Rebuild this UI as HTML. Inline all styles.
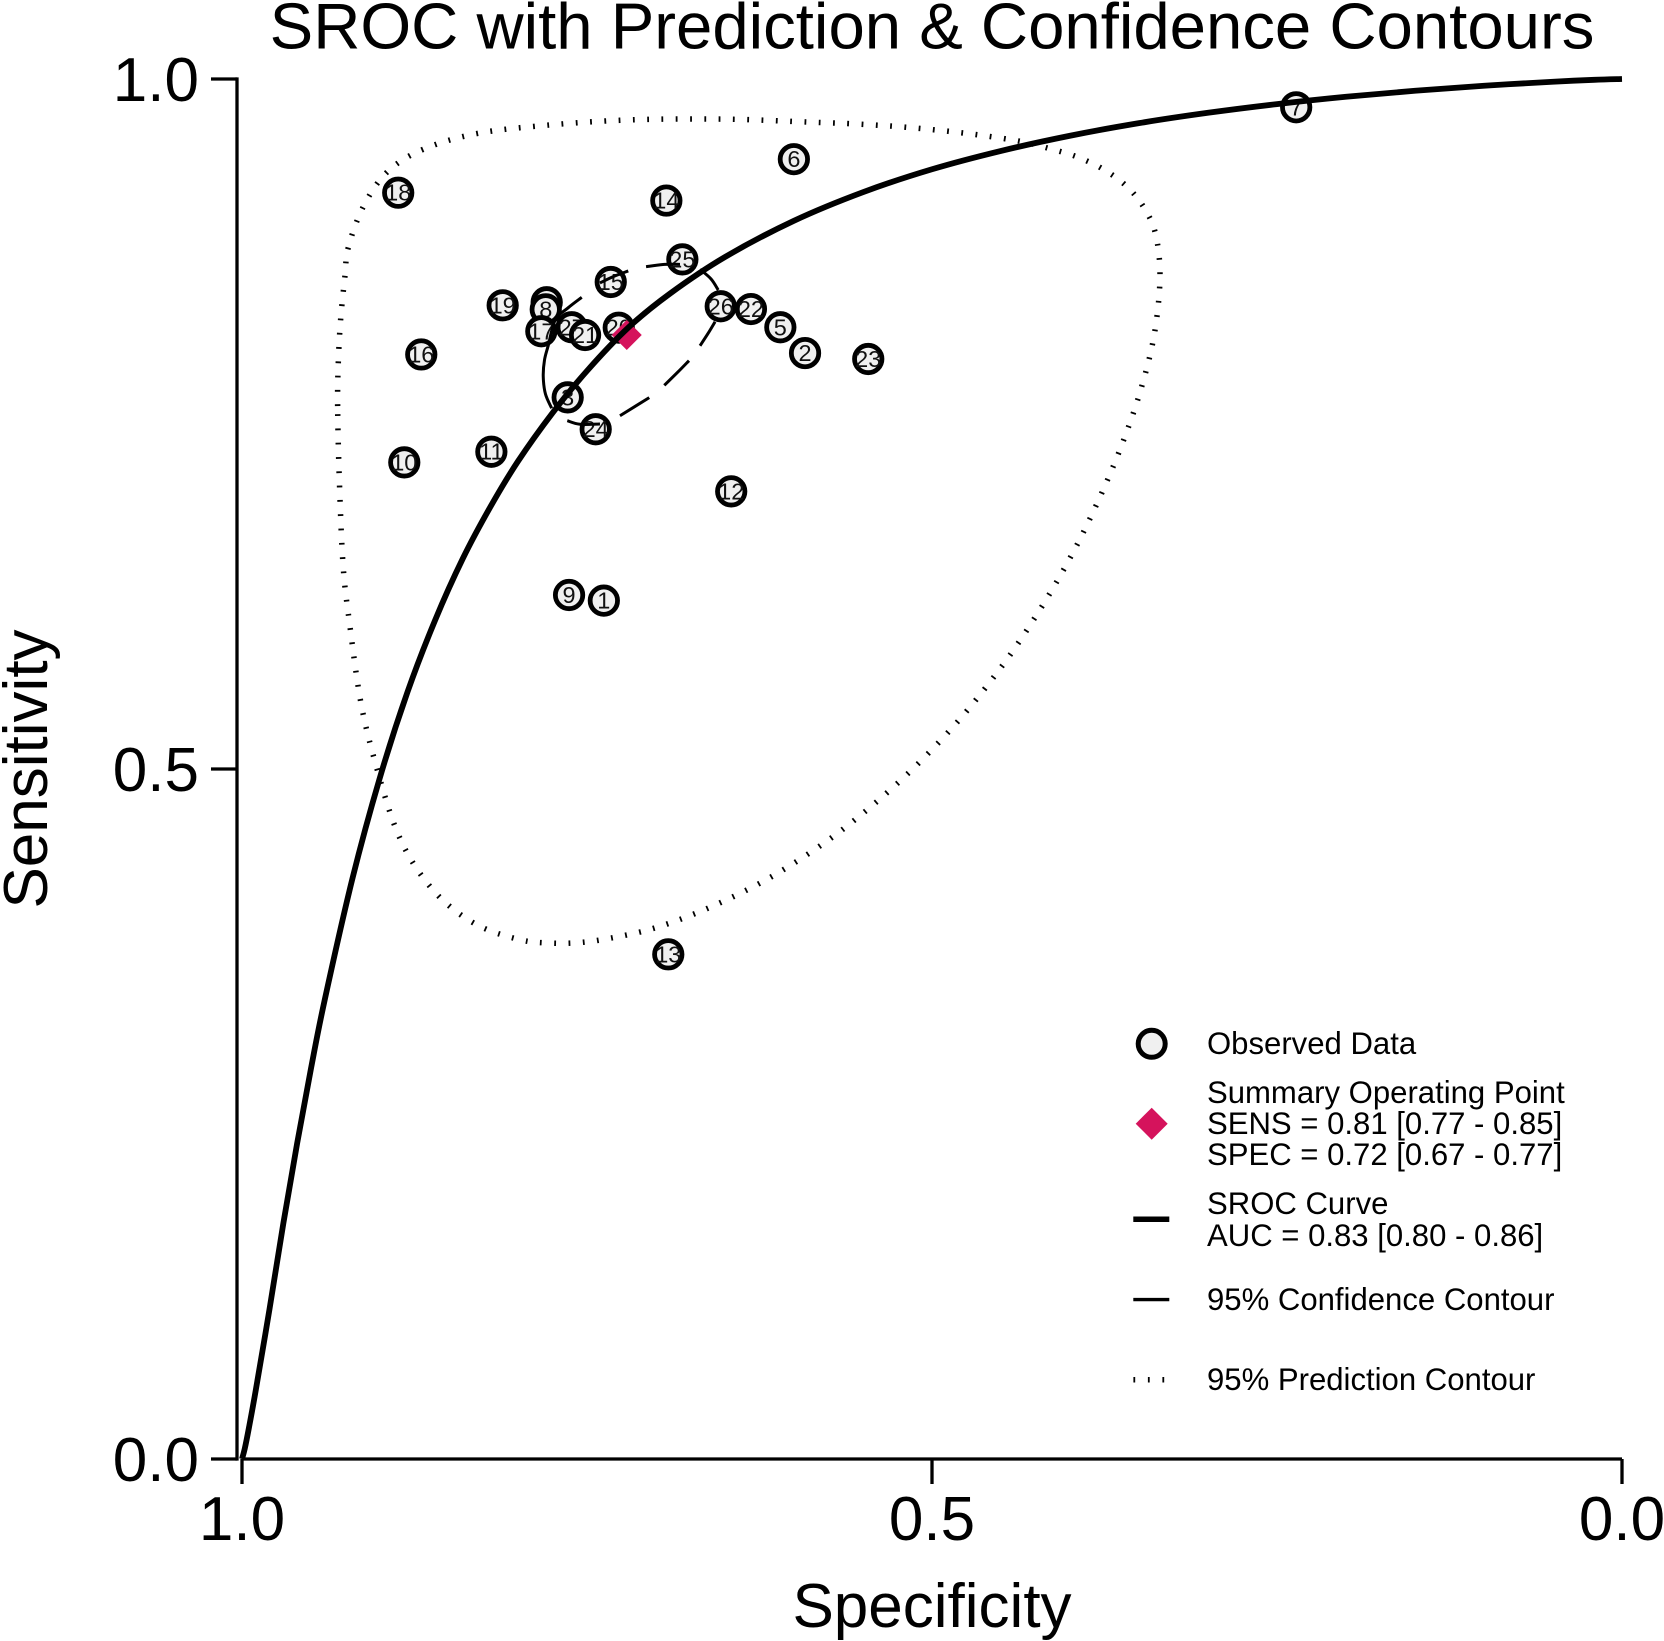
<!DOCTYPE html>
<html lang="en">
<head>
<meta charset="utf-8">
<title>SROC with Prediction &amp; Confidence Contours</title>
<style>
html,body{margin:0;padding:0;background:#fff;}
svg{display:block;font-family:"Liberation Sans",Arial,sans-serif;}
</style>
</head>
<body>
<svg id="chart" xmlns="http://www.w3.org/2000/svg" width="1664" height="1641" viewBox="0 0 1664 1641">
  <rect x="0" y="0" width="1664" height="1641" fill="#ffffff"/>
  <text x="932" y="48.5" font-size="65.3" text-anchor="middle" fill="#000">SROC with Prediction &amp; Confidence Contours</text>
  <text x="932" y="1627" font-size="62" text-anchor="middle" fill="#000">Specificity</text>
  <text transform="translate(47 769) rotate(-90)" font-size="62" text-anchor="middle" fill="#000">Sensitivity</text>
  <g id="axes"></g>
  <g id="points"></g>
  <g id="summary"></g>
  <g id="confidence"></g>
  <g id="prediction"></g>
  <g id="curve"></g>
  <g font-size="31.1" fill="#000">
    <circle cx="1151.7" cy="1043.8" r="13.5" fill="#f0f0f0" stroke="#000" stroke-width="5"/>
    <text x="1207" y="1054">Observed Data</text>
    <polygon points="1151.7,1107.7 1167.7,1123.7 1151.7,1139.7 1135.7,1123.7" fill="#d5135c"/>
    <text x="1207" y="1103">Summary Operating Point</text>
    <text x="1207" y="1134">SENS = 0.81 [0.77 - 0.85]</text>
    <text x="1207" y="1165">SPEC = 0.72 [0.67 - 0.77]</text>
    <line x1="1133.3" y1="1219.3" x2="1169.3" y2="1219.3" stroke="#000" stroke-width="5.5"/>
    <text x="1207" y="1214">SROC Curve</text>
    <text x="1207" y="1246">AUC = 0.83 [0.80 - 0.86]</text>
    <line x1="1133.3" y1="1299.6" x2="1169.3" y2="1299.6" stroke="#000" stroke-width="3.4"/>
    <text x="1207" y="1310">95% Confidence Contour</text>
    <line x1="1133.4" y1="1379.8" x2="1169.3" y2="1379.8" stroke="#000" stroke-width="5.5" stroke-dasharray="1.8 12.7"/>
    <text x="1207" y="1390">95% Prediction Contour</text>
  </g>
</svg>
<script>
/* ---------- chart data ---------- */
var xTickValues = [1.0, 0.5, 0.0];
var xTickLabels = ['1.0', '0.5', '0.0'];
var yTickValues = [0.0, 0.5, 1.0];
var yTickLabels = ['0.0', '0.5', '1.0'];

var studyIds = [1,2,3,4,5,6,7,8,9,10,11,12,13,14,15,16,17,18,19,20,27,21,22,23,24,25,26];
var studySpec = [.7378,.5920,.7640,.7792,.6099,.6001,.2361,.7799,.7630,.8824,.8193,.6455,.6911,.6925,.7328,.8701,.7831,.8868,.8111,.7270,.7611,.7514,.6312,.5462,.7437,.6809,.6531];
var studySens = [.6220,.8014,.7693,.8382,.8201,.9419,.9795,.8331,.6261,.7222,.7299,.7012,.3657,.9119,.8529,.8004,.8172,.9176,.8360,.8198,.8201,.8145,.8333,.7971,.7462,.8693,.8353];

var summarySpec = 0.7212;
var summarySens = 0.8145;

var srocSpec = [1,.998,.995,.99,.98,.97,.96,.95,.94,.92,.90,.88,.86,.84,.82,.80,.775,.75,.72,.69,.65,.60,.55,.50,.45,.40,.35,.30,.25,.20,.15,.10,.05,.02,0];
var srocSens = [0,.0075,.0225,.0500,.1090,.1710,.2290,.2830,.3330,.4205,.4940,.5560,.6080,.6525,.6900,.7230,.7580,.7885,.8199,.8444,.8710,.8973,.9180,.9346,.9479,.9589,.9680,.9755,.9818,.9871,.9915,.9951,.9980,.9994,1];

var predictionSpec = [.9307,.9302,.9285,.9254,.9230,.9121,.8946,.8681,.8286,.7768,.7261,.6826,.6391,.5899,.5587,.5275,.4966,.4657,.4348,.4145,.3947,.3759,.3589,.3462,.3379,.3348,.3389,.3488,.3623,.3783,.3964,.4169,.4393,.4578,.4773,.4983,.5203,.5435,.5679,.5935,.6201,.6480,.6766,.7060,.7364,.7570,.7778,.7986,.8280,.8536,.8734,.8879,.9005,.9133,.9222,.9268,.9295];
var predictionSens = [.7630,.7951,.8261,.8572,.8778,.9075,.9328,.9493,.9607,.9667,.9701,.9710,.9707,.9688,.9676,.9657,.9630,.9594,.9546,.9495,.9435,.9346,.9222,.9065,.8872,.8563,.8150,.7746,.7353,.6971,.6596,.6234,.5886,.5633,.5391,.5159,.4940,.4734,.4538,.4360,.4198,.4056,.3933,.3833,.3768,.3741,.3739,.3763,.3862,.4041,.4278,.4553,.4942,.5451,.6067,.6483,.7107];

var confidenceDashSpec = [
  [.7261,.7049],
  [.6940,.6841,.6761],
  [.6681,.6623,.6572],
  [.6549,.6601,.6681],
  [.6826,.6949,.7072],
  [.7201,.7312,.7406],
  [.7538,.7638,.7730,.7780,.7808,.7817,.7801,.7756],
  [.7643,.7551,.7406]
];
var confidenceDashSens = [
  [.7560,.7691],
  [.7780,.7877,.7959],
  [.8067,.8156,.8241],
  [.8471,.8551,.8621],
  [.8657,.8656,.8640],
  [.8609,.8567,.8522],
  [.8418,.8341,.8254,.8072,.7964,.7843,.7717,.7614],
  [.7524,.7498,.7500]
];

/* ---------- axis functions ---------- */
var SVGNS = 'http://www.w3.org/2000/svg';
function xScale(spec) { return 1622 - spec * 1380; }
function yScale(sens) { return 1459 - sens * 1380; }

function make(tag, attrs, parent) {
  var el = document.createElementNS(SVGNS, tag);
  for (var k in attrs) { el.setAttribute(k, attrs[k]); }
  parent.appendChild(el);
  return el;
}

function smoothPath(xs, ys, closed) {
  var n = xs.length;
  function px(i) { return closed ? xs[(i + n) % n] : xs[Math.max(0, Math.min(n - 1, i))]; }
  function py(i) { return closed ? ys[(i + n) % n] : ys[Math.max(0, Math.min(n - 1, i))]; }
  var d = 'M' + px(0).toFixed(2) + ' ' + py(0).toFixed(2);
  var last = closed ? n : n - 1;
  for (var i = 0; i < last; i++) {
    var c1x = px(i) + (px(i + 1) - px(i - 1)) / 6;
    var c1y = py(i) + (py(i + 1) - py(i - 1)) / 6;
    var c2x = px(i + 1) - (px(i + 2) - px(i)) / 6;
    var c2y = py(i + 1) - (py(i + 2) - py(i)) / 6;
    d += 'C' + c1x.toFixed(2) + ' ' + c1y.toFixed(2) + ' ' + c2x.toFixed(2) + ' ' + c2y.toFixed(2) + ' ' + px(i + 1).toFixed(2) + ' ' + py(i + 1).toFixed(2);
  }
  return closed ? d + 'Z' : d;
}

/* ---------- axes ---------- */
var axes = document.getElementById('axes');
var xAxisLine = make('line', {x1: xScale(1), y1: yScale(0), x2: xScale(0), y2: yScale(0), stroke: '#000', 'stroke-width': 3.3}, axes);


var yAxisLine = make('line', {x1: 237, y1: yScale(0) + 1.6, x2: 237, y2: yScale(1) - 1.6, stroke: '#000', 'stroke-width': 3.3}, axes);



xTickValues.forEach(function (v, i) {
  var tick = make('line', {x1: xScale(v), y1: yScale(0), x2: xScale(v), y2: yScale(0) + 25, stroke: '#000', 'stroke-width': 3.3}, axes);
  
  
  var label = make('text', {x: xScale(v), y: 1540, 'font-size': 62, 'text-anchor': 'middle', fill: '#000'}, axes);
  
  
  label.textContent = xTickLabels[i];
});
yTickValues.forEach(function (v, i) {
  var tick = make('line', {x1: 211, y1: yScale(v), x2: 237, y2: yScale(v), stroke: '#000', 'stroke-width': 3.3}, axes);
  
  
  var label = make('text', {x: 199, y: yScale(v) + 22, 'font-size': 62, 'text-anchor': 'end', fill: '#000'}, axes);
  
  
  label.textContent = yTickLabels[i];
});

/* ---------- study points ---------- */
var pointsLayer = document.getElementById('points');
studyIds.forEach(function (id, i) {
  var cx = xScale(studySpec[i]);
  var cy = yScale(studySens[i]);
  var circle = make('circle', {cx: cx, cy: cy, r: 13.7, fill: '#f0f0f0', stroke: '#000', 'stroke-width': 4.8}, pointsLayer);
  
  
  var label = make('text', {x: cx, y: cy + 8, 'font-size': 23.5, 'text-anchor': 'middle', fill: '#111'}, pointsLayer);
  
  
  label.textContent = String(id);
});

/* ---------- summary operating point ---------- */
var sx = xScale(summarySpec);
var sy = yScale(summarySens);
var diamond = make('polygon', {points: sx + ',' + (sy - 15) + ' ' + (sx + 15) + ',' + sy + ' ' + sx + ',' + (sy + 15) + ' ' + (sx - 15) + ',' + sy, fill: '#d5135c'}, document.getElementById('summary'));



/* ---------- confidence contour ---------- */
var confLayer = document.getElementById('confidence');
confidenceDashSpec.forEach(function (specs, i) {
  var xs = specs.map(xScale);
  var ys = confidenceDashSens[i].map(yScale);
  var dash = make('path', {d: smoothPath(xs, ys, false), fill: 'none', stroke: '#000', 'stroke-width': 3}, confLayer);
  
  
});

/* ---------- prediction contour ---------- */
var predPath = make('path', {
  d: smoothPath(predictionSpec.map(xScale), predictionSens.map(yScale), true),
  fill: 'none', stroke: '#000', 'stroke-width': 5.5, 'stroke-dasharray': '1.8 12.5'
}, document.getElementById('prediction'));



/* ---------- SROC curve ---------- */
var srocPath = make('path', {
  d: smoothPath(srocSpec.map(xScale), srocSens.map(yScale), false),
  fill: 'none', stroke: '#000', 'stroke-width': 5.8
}, document.getElementById('curve'));


</script>
</body>
</html>
